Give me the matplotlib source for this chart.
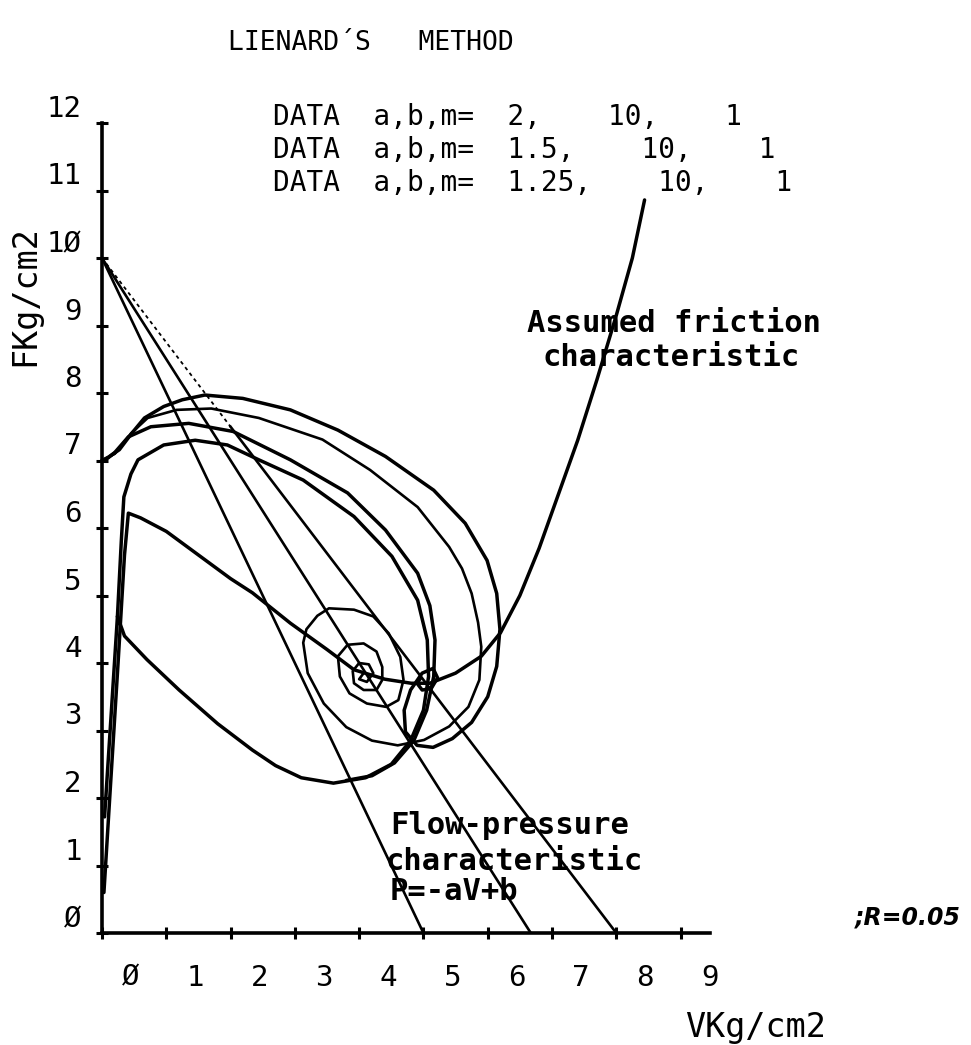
import numpy as np
import matplotlib.pyplot as plt

# flow-pressure lines P = -aV + b  (end points)
flow_a = [2.0, 1.5, 1.25]
flow_b = 10.0
flow_v0 = [5.0, 6.67, 8.0]

# assumed friction characteristic
fric_v = [0.03, 0.12, 0.25, 0.35, 0.41, 0.6, 1.0, 1.5, 2.0, 2.34, 2.93, 3.5, 3.92,
          4.4, 4.81, 5.1, 5.5, 5.9, 6.2, 6.5, 6.8, 7.1, 7.4, 7.7, 8.0, 8.25, 8.44]
fric_p = [0.6, 2.0, 4.0, 5.6, 6.22, 6.15, 5.95, 5.6, 5.25, 5.04, 4.59, 4.2, 3.9,
          3.76, 3.7, 3.7, 3.85, 4.1, 4.45, 5.0, 5.7, 6.5, 7.3, 8.2, 9.15, 10.0, 10.86]

# limit cycle (a = 2)
cyc_v = [0.04, 0.14, 0.24, 0.3, 0.34, 0.45, 0.56, 0.96, 1.45, 1.95, 2.44, 3.13, 3.92,
         4.51, 4.91, 5.06, 5.08, 5.0, 4.8, 4.5, 4.1, 3.6, 3.1, 2.7, 2.34, 1.8, 1.2,
         0.7, 0.35, 0.24]
cyc_p = [1.72, 3.2, 4.69, 5.8, 6.46, 6.8, 7.01, 7.23, 7.3, 7.23, 7.01, 6.71, 6.17,
         5.58, 4.93, 4.34, 3.8, 3.3, 2.85, 2.5, 2.3, 2.22, 2.3, 2.48, 2.71, 3.1, 3.6,
         4.05, 4.4, 4.69]

# trajectory a = 2 starting at (0, 7)
t3_v = [0.0, 0.07, 0.2, 0.41, 0.76, 1.35, 2.04, 2.93, 3.82, 4.41, 4.91, 5.1, 5.18,
        5.16, 5.05, 4.85, 4.55, 4.2, 3.8]
t3_p = [7.0, 7.02, 7.12, 7.35, 7.5, 7.55, 7.43, 7.01, 6.52, 5.97, 5.33, 4.85, 4.34,
        3.8, 3.3, 2.85, 2.52, 2.33, 2.26]

# trajectory a = 1.5 starting at (0, 7)
t2_v = [0.0, 0.2, 0.45, 0.71, 1.16, 1.7, 2.44, 3.43, 4.17, 4.91, 5.4, 5.6, 5.75, 5.85,
        5.9, 5.87, 5.7, 5.4, 5.01, 4.6, 4.2, 3.8, 3.45, 3.2, 3.13, 3.18, 3.35, 3.53,
        3.92, 4.22, 4.46, 4.64, 4.69, 4.61, 4.42, 4.12, 3.85, 3.7, 3.67, 3.82, 4.07,
        4.27, 4.36, 4.36, 4.27, 4.07, 3.92, 3.9, 4.0, 4.15, 4.22, 4.12, 4.0, 4.07]
t2_p = [7.0, 7.1, 7.4, 7.63, 7.75, 7.77, 7.63, 7.31, 6.86, 6.31, 5.72, 5.4, 5.03, 4.6,
        4.24, 3.75, 3.35, 3.06, 2.86, 2.78, 2.85, 3.05, 3.4, 3.85, 4.3, 4.5, 4.7, 4.81,
        4.79, 4.69, 4.44, 4.09, 3.75, 3.45, 3.35, 3.4, 3.55, 3.8, 4.1, 4.27, 4.29,
        4.17, 3.94, 3.75, 3.6, 3.6, 3.7, 3.88, 4.0, 3.98, 3.85, 3.72, 3.76, 3.85]

# trajectory a = 1.25 starting at (0, 7)
t1_v = [0.0, 0.1, 0.27, 0.46, 0.66, 0.96, 1.25, 1.6, 2.19, 2.93, 3.67, 4.41, 5.16,
        5.65, 5.99, 6.14, 6.19, 6.14, 6.0, 5.75, 5.45, 5.15, 4.9, 4.72, 4.7, 4.8,
        4.98, 5.15, 5.22, 5.12, 4.98, 4.9, 4.96]
t1_p = [7.0, 7.05, 7.16, 7.4, 7.63, 7.8, 7.9, 7.97, 7.92, 7.75, 7.45, 7.06, 6.56,
        6.07, 5.52, 5.03, 4.5, 3.95, 3.5, 3.12, 2.88, 2.75, 2.78, 2.98, 3.3, 3.6,
        3.85, 3.92, 3.78, 3.62, 3.6, 3.7, 3.78]

xtick_vals = list(range(10))
xtick_text = ["Ø", "1", "2", "3", "4", "5", "6", "7", "8", "9"]
ytick_vals = list(range(13))
ytick_text = ["Ø", "1", "2", "3", "4", "5", "6", "7", "8", "9", "1Ø", "11", "12"]

data_lines = ["DATA  a,b,m=  2,    10,    1",
              "DATA  a,b,m=  1.5,    10,    1",
              "DATA  a,b,m=  1.25,    10,    1"]

mono = "DejaVu Sans Mono"
plt.rcParams["font.family"] = mono

fig = plt.figure(figsize=(9.71, 10.45), dpi=100)
ax = fig.add_axes([102 / 971, 1 - 933 / 1045, 9 * 67.5 / 971, 12 * 67.5 / 1045])
ax.set_xlim(0, 9)
ax.set_ylim(0, 12)
for s in ["top", "right"]:
    ax.spines[s].set_visible(False)
for s in ["left", "bottom"]:
    ax.spines[s].set_linewidth(2.6)

ax.set_xticks(xtick_vals)
ax.set_xticklabels([])
ax.set_xticks([v + 0.45 for v in xtick_vals], xtick_text, minor=True)
ax.tick_params(axis="x", which="major", direction="inout", length=9, width=2.2)
ax.tick_params(axis="x", which="minor", length=0, pad=22, labelsize=21)
ax.set_yticks(ytick_vals, ytick_text)
ax.tick_params(axis="y", which="major", direction="inout", length=9, width=2.2,
               pad=10, labelsize=21)
for lab in ax.get_yticklabels():
    lab.set_verticalalignment("bottom")

kw = dict(color="black", lw=2.5, clip_on=False, solid_capstyle="round",
          solid_joinstyle="round")

# flow-pressure characteristics
for a, v0 in zip(flow_a, flow_v0):
    if a == 1.25:
        ax.plot([0, 2.0], [flow_b, flow_b - a * 2.0], color="black", lw=1.3,
                ls=(0, (2, 2)))
        ax.plot([2.0, v0], [flow_b - a * 2.0, 0], color="black", lw=1.9)
    else:
        ax.plot([0, v0], [flow_b, 0], color="black", lw=1.9)

ax.plot(fric_v, fric_p, **kw)
ax.plot(cyc_v, cyc_p, **kw)
ax.plot(t3_v, t3_p, **kw)
ax.plot(t2_v, t2_p, color="black", lw=1.9, solid_joinstyle="round")
ax.plot(t1_v, t1_p, **kw)

# texts
fig.text(228 / 971, 1 - 43 / 1045, "LIENARD´S   METHOD", fontsize=19,
         va="center", ha="left")
for i, line in enumerate(data_lines):
    fig.text(273 / 971, 1 - (117 + 33 * i) / 1045, line, fontsize=20,
             va="center", ha="left")

bold = dict(fontsize=22, fontweight="bold", va="center", ha="left")
fig.text(527 / 971, 1 - 323 / 1045, "Assumed friction", **bold)
fig.text(542 / 971, 1 - 357 / 1045, "characteristic", **bold)
fig.text(390 / 971, 1 - 826 / 1045, "Flow-pressure", **bold)
fig.text(385 / 971, 1 - 861 / 1045, "characteristic", **bold)
fig.text(390 / 971, 1 - 891 / 1045, "P=-aV+b", **bold)

fig.text(25 / 971, 1 - 296 / 1045, "FKg/cm2", fontsize=24, rotation=90,
         va="center", ha="center")
fig.text(755 / 971, 1 - 1028 / 1045, "VKg/cm2", fontsize=24, va="center",
         ha="center")
fig.text(855 / 971, 1 - 918 / 1045, ";R=0.05", fontsize=17, style="italic",
         fontweight="bold", va="center", ha="left", family="DejaVu Sans")

fig.savefig("out.png", dpi=100)
